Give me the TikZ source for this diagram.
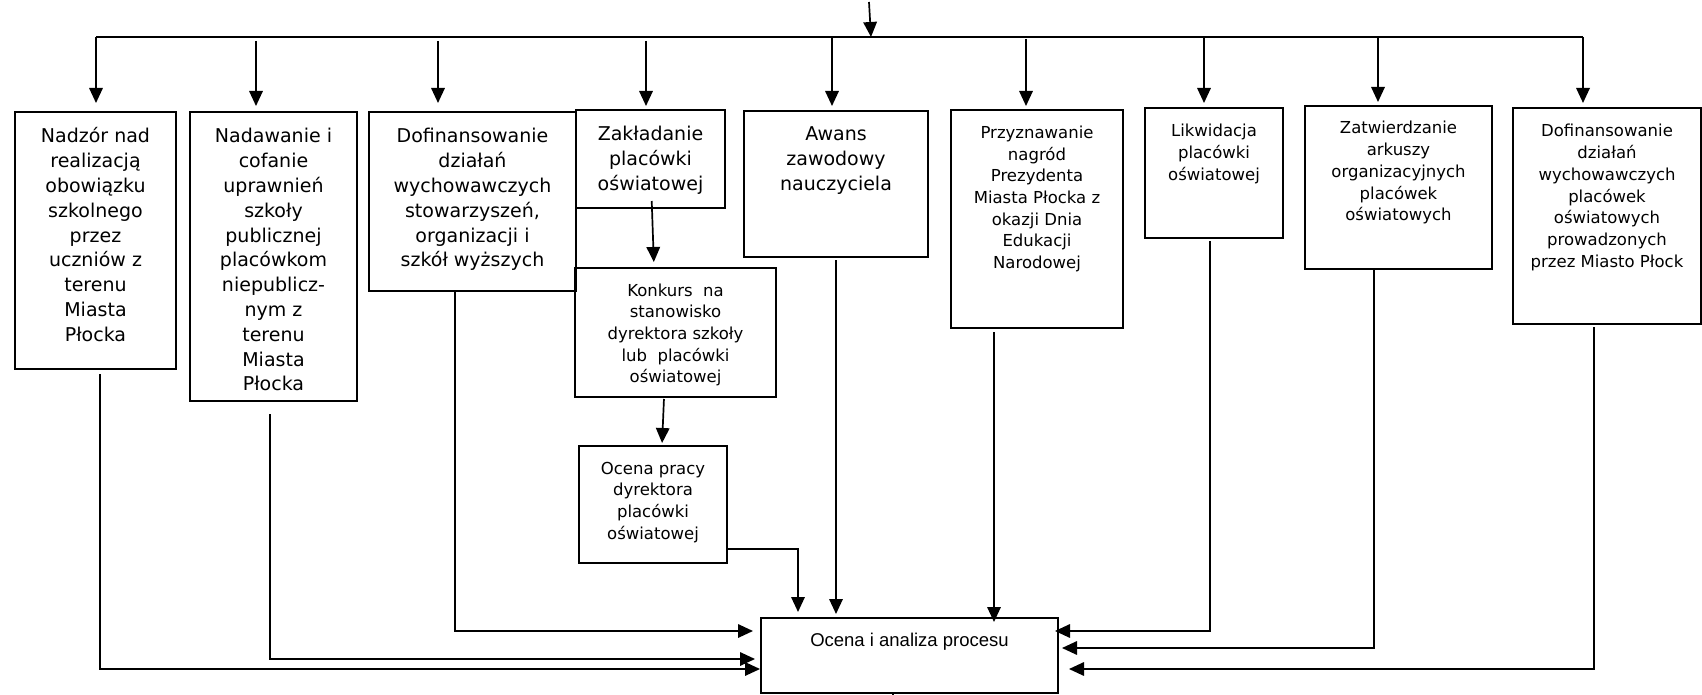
\documentclass[tikz,border=0pt]{standalone}
\usepackage{fontspec}
\setmainfont{DejaVu Sans}
\newfontfamily\arialf{Liberation Sans}
\usetikzlibrary{arrows.meta,calc}
\newcommand{\bigf}{\fontsize{19}{24.8}\selectfont}
\newcommand{\smallf}{\fontsize{16.5}{21.7}\selectfont}
\newcommand{\mainf}{\arialf\fontsize{18.5}{22}\selectfont}
% width, height, first baseline, font, text
\newcommand{\bt}[5]{\parbox[t][#2][t]{#1}{#4\centering\rule{0pt}{#3}#5}}
\begin{document}
\begin{tikzpicture}[x=1pt,y=-1pt,
  box/.style={draw, line width=2pt, inner sep=0pt, anchor=north west},
  conn/.style={line width=1.7pt},
  arr/.style={conn, -{Triangle[length=15pt,width=13.5pt]}}]
\useasboundingbox (0,0) rectangle (1702,695);

% boxes
\node[box] (b1) at (14,111) {\bt{161pt}{257pt}{31pt}{\bigf}{Nadzór nad\\realizacją\\obowiązku\\szkolnego\\przez\\uczniów z\\terenu\\Miasta\\Płocka}};
\node[box] (b2) at (189,111) {\bt{167pt}{289pt}{31pt}{\bigf}{Nadawanie i\\cofanie\\uprawnień\\szkoły\\publicznej\\placówkom\\niepublicz-\\nym z\\terenu\\Miasta\\Płocka}};
\node[box] (b3) at (368,111) {\bt{207pt}{179pt}{31pt}{\bigf}{Dofinansowanie\\działań\\wychowawczych\\stowarzyszeń,\\organizacji i\\szkół wyższych}};
\node[box] (b4) at (575,109) {\bt{149pt}{98pt}{31pt}{\bigf}{Zakładanie\\placówki\\oświatowej}};
\node[box] (kon) at (574,267) {\bt{201pt}{129pt}{28pt}{\smallf}{Konkurs\ \ na\\stanowisko\\dyrektora szkoły\\lub\ \ placówki\\oświatowej}};
\node[box] (op) at (578,445) {\bt{148pt}{117pt}{28pt}{\smallf}{Ocena pracy\\dyrektora\\placówki\\oświatowej}};
\node[box] (b5) at (743,110) {\bt{184pt}{146pt}{30pt}{\bigf}{Awans\\zawodowy\\nauczyciela}};
\node[box] (b6) at (950,109) {\bt{172pt}{218pt}{28.5pt}{\smallf}{Przyznawanie\\nagród\\Prezydenta\\Miasta Płocka z\\okazji Dnia\\Edukacji\\Narodowej}};
\node[box] (b7) at (1144,107) {\bt{138pt}{130pt}{29pt}{\smallf}{Likwidacja\\placówki\\oświatowej}};
\node[box] (b8) at (1304,105) {\bt{187pt}{163pt}{28pt}{\smallf}{Zatwierdzanie\\arkuszy\\organizacyjnych\\placówek\\oświatowych}};
\node[box] (b9) at (1512,107) {\bt{188pt}{216pt}{29pt}{\smallf}{Dofinansowanie\\działań\\wychowawczych\\placówek\\oświatowych\\prowadzonych\\przez Miasto Płock}};
\node[box] (main) at (760,617) {\bt{297pt}{75pt}{28pt}{\mainf}{Ocena i analiza procesu}};

% top distribution
\coordinate (tin) at (869,2);
\coordinate (tbar) at (871,37);
\coordinate (c1) at (96,37);
\coordinate (c2) at (256,37);
\coordinate (c3) at (438,37);
\coordinate (c4) at (646,37);
\coordinate (c5) at (832,37);
\coordinate (c6) at (1026,37);
\coordinate (c7) at (1204,37);
\coordinate (c8) at (1378,37);
\coordinate (c9) at (1583,37);
\draw[arr] (tin) -- (tbar);
\draw[conn] (c1) -- (c9);
\draw[arr, shorten >=8pt] (c1) -- (c1 |- b1.north);
\draw[arr, shorten <=4pt, shorten >=5pt] (c2) -- (c2 |- b2.north);
\draw[arr, shorten <=4pt, shorten >=8pt] (c3) -- (c3 |- b3.north);
\draw[arr, shorten <=4pt, shorten >=3pt] (c4) -- (c4 |- b4.north);
\draw[arr, shorten >=4pt] (c5) -- (c5 |- b5.north);
\draw[arr, shorten <=2pt, shorten >=3pt] (c6) -- (c6 |- b6.north);
\draw[arr, shorten >=4pt] (c7) -- (c7 |- b7.north);
\draw[arr, shorten >=3pt] (c8) -- (c8 |- b8.north);
\draw[arr, shorten >=4pt] (c9) -- (c9 |- b9.north);

% middle chain
\coordinate (z1) at (652,0);
\coordinate (z2) at (654,0);
\draw[arr, shorten <=-8pt, shorten >=5pt] (b4.south -| z1) -- (kon.north -| z2);
\coordinate (k1) at (664,0);
\coordinate (k2) at (662,0);
\draw[arr, shorten <=1pt, shorten >=2pt] (kon.south -| k1) -- (op.north -| k2);
\coordinate (opk) at (798,549);
\draw[arr, shorten >=5pt] (op.east |- opk) -- (opk) -- (opk |- main.north);
\coordinate (awx) at (836,0);
\draw[arr, shorten <=2pt, shorten >=3pt] (b5.south -| awx) -- (main.north -| awx);
\coordinate (prx) at (994,0);
\draw[arr, shorten <=3pt, shorten >=-5pt] (b6.south -| prx) -- (main.north -| prx);

% left lanes
\coordinate (l1) at (100,669);
\draw[arr, shorten <=4pt] (b1.south -| l1) -- (l1) -- (l1 -| main.west);
\coordinate (l2) at (270,659);
\draw[arr, shorten <=12pt, shorten >=5pt] (b2.south -| l2) -- (l2) -- (l2 -| main.west);
\coordinate (l3) at (455,631);
\draw[arr, shorten >=7pt] (b3.south -| l3) -- (l3) -- (l3 -| main.west);

% right lanes
\coordinate (r1) at (1210,631);
\draw[arr, shorten <=2pt, shorten >=-4pt] (b7.south -| r1) -- (r1) -- (r1 -| main.east);
\coordinate (r2) at (1374,648);
\draw[arr, shorten >=3pt] (b8.south -| r2) -- (r2) -- (r2 -| main.east);
\coordinate (r3) at (1594,669);
\draw[arr, shorten <=2pt, shorten >=10pt] (b9.south -| r3) -- (r3) -- (r3 -| main.east);

% outgoing
\coordinate (bo) at (893,700);
\draw[conn] (main.south -| bo) -- (bo);
\end{tikzpicture}
\end{document}
